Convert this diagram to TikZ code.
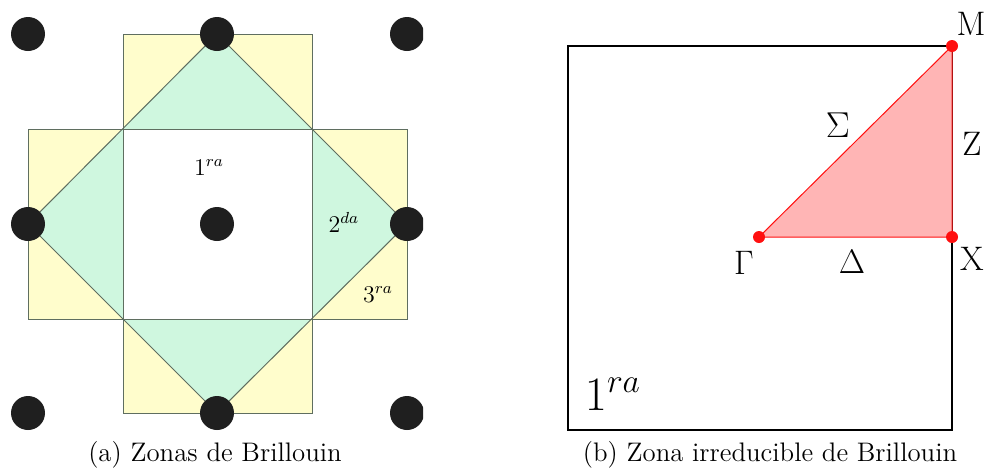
\RequirePackage{fix-cm}
\documentclass[tikz,border=0pt]{standalone}
\usepackage{amsmath}
\usetikzlibrary{positioning}
\definecolor{bzYellow}{HTML}{FFFDCC}
\definecolor{bzGreen} {HTML}{CFF7DF}
\definecolor{bzLine}  {HTML}{5F6E60}
\definecolor{bzRed}   {HTML}{FF1010}
\definecolor{bzPink}  {HTML}{FFB5B5}
\begin{document}
\begin{tikzpicture}[x=0.5pt,y=-0.5pt,
      atom/.style={circle,fill=black!88,inner sep=0pt,minimum size=17pt},
      kpt/.style={circle,fill=bzRed,inner sep=0pt,minimum size=6pt},
      zline/.style={draw=bzLine,line width=0.5pt},
      zlbl/.style={anchor=base,font=\fontsize{12}{14}\selectfont},
      sym/.style={font=\fontsize{17}{19}\selectfont},
      capt/.style={anchor=base,font=\fontsize{13.4}{15}\selectfont}]

    \useasboundingbox (0,0) rectangle (987,467);

    % (a) Brillouin zones
    \begin{scope}
      \clip (0,0) rectangle (423,432);
      \fill[bzYellow] (123,34) rectangle (312,413);
      \fill[bzYellow] (28,129) rectangle (407,319);
      \fill[bzGreen] (217,34) -- (407,224) -- (217,413) -- (28,224) -- cycle;
      \fill[white] (123,129) rectangle (312,319);
      \draw[zline] (123,34) rectangle (312,413);
      \draw[zline] (28,129) rectangle (407,319);
      \draw[zline] (217,34) -- (407,224) -- (217,413) -- (28,224) -- cycle;

      \foreach \i/\x in {0/28,1/217,2/407}
        \foreach \j/\y in {0/34,1/224,2/413}
          \node[atom] (a\i\j) at (\x,\y) {};
    \end{scope}

    \node[zlbl] (z1) at (209,175) {$1^{ra}$};
    \node[zlbl] (z2) at (344,232) {$2^{da}$};
    \node[zlbl] (z3) at (378,302) {$3^{ra}$};
    \node[capt] (capa) at (215,461) {(a) Zonas de Brillouin};

    % (b) irreducible zone
    \draw[line width=0.75pt] (568,46) rectangle (952,430);
    \coordinate (G) at (759,237);
    \coordinate (X) at (952,237);
    \coordinate (M) at (952,46);
    \fill[bzPink] (G) -- (X) -- (M) -- cycle;
    \draw[bzRed,line width=0.5pt] (G) -- (X) -- (M) -- cycle;
    \foreach \p in {G,X,M}
      \node[kpt] (k\p) at (\p) {};

    \node[sym] (lM) at (971,24) {M};
    \node[sym] (lZ) at (972,144) {Z};
    \node[sym] (lX) at (972,259) {X};
    \node[sym] (lG) at (744,263) {$\Gamma$};
    \node[sym] (lD) at (852,262) {$\Delta$};
    \node[sym,font=\fontsize{18}{20}\selectfont] (lS) at (838,125) {$\Sigma$};
    \node[anchor=base,font=\fontsize{24}{28}\selectfont] (r1) at (613,410) {$1^{ra}$};
    \node[capt] (capb) at (770,461) {(b) Zona irreducible de Brillouin};
\end{tikzpicture}
\end{document}
